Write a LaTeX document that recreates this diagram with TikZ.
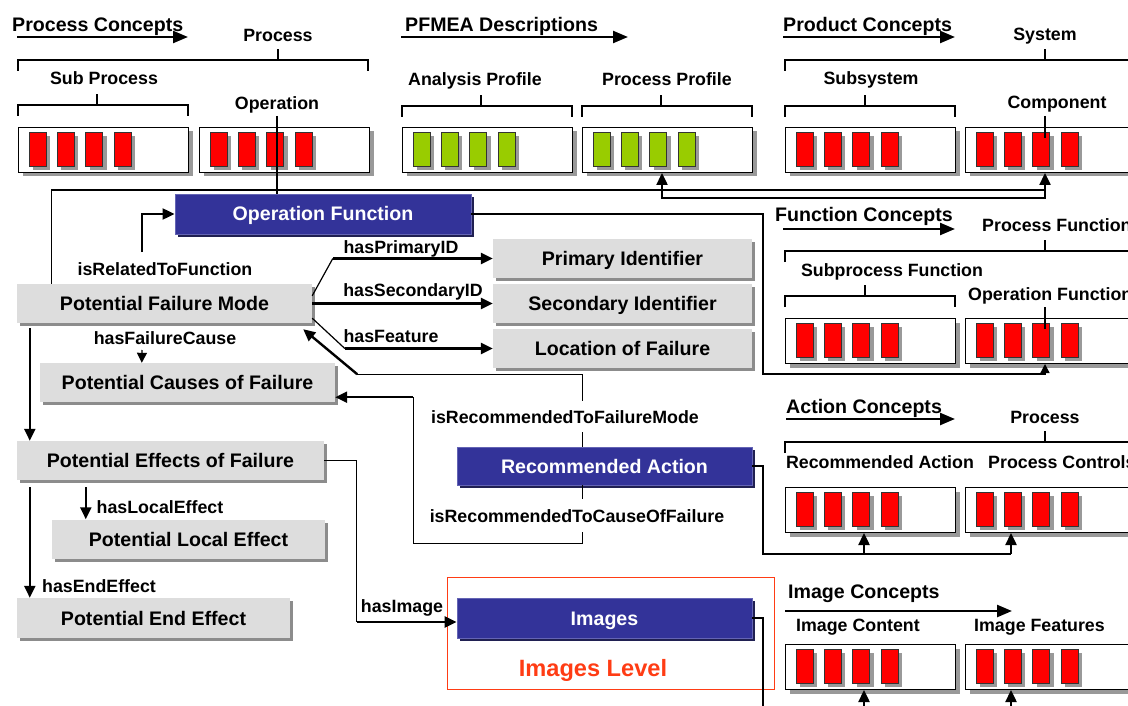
\documentclass[tikz,border=0pt]{standalone}
\usepackage{fontspec}
\setmainfont{Liberation Sans}
\usetikzlibrary{arrows.meta,calc,shadows,positioning}
\definecolor{boxgray}{RGB}{221,221,221}
\definecolor{navy}{RGB}{51,51,153}
\definecolor{navyedge}{RGB}{100,100,180}
\definecolor{navyshade}{RGB}{32,32,82}
\definecolor{cellgreen}{RGB}{153,204,0}
\definecolor{levelred}{RGB}{255,60,20}
\tikzset{
  head/.style={font=\fontsize{19.6}{22}\selectfont\bfseries, inner sep=0pt, anchor=base west},
  lbl/.style={font=\fontsize{17.8}{20}\selectfont\bfseries, inner sep=0pt, anchor=base},
  graybox/.style={fill=boxgray, minimum height=39pt, text height=14pt, text depth=0pt, inner sep=0pt,
    font=\fontsize{19.6}{22}\selectfont\bfseries,
    drop shadow={shadow xshift=3pt, shadow yshift=-3pt, fill=black!45, opacity=1}},
  bluebox/.style={fill=navy, draw=navyedge, line width=0.8pt, text=white, minimum height=39pt,
    text height=14pt, text depth=0pt, inner sep=0pt, font=\fontsize{19.6}{22}\selectfont\bfseries,
    drop shadow={shadow xshift=3pt, shadow yshift=-3pt, fill=navyshade, opacity=1}},
  cbox/.style={draw=black, line width=1pt, fill=white, minimum width=170pt, minimum height=45pt,
    anchor=north west, inner sep=0pt,
    drop shadow={shadow xshift=4pt, shadow yshift=-4pt, fill=black!40, opacity=1}},
  cell/.style={draw=black!80, line width=0.8pt},
  cellshade/.style={fill=black!40},
  conn/.style={line width=1.2pt},
  thk/.style={line width=2.4pt},
  hdarr/.style={line width=2.4pt, -{Triangle[length=15pt,width=12pt]}},
  levelframe/.style={draw=levelred, line width=1pt}
}
% white box holding four cells
\newcommand\conceptbox[4]{%
  \node[cbox] (#1) at (#2,#3) {};
  \foreach \k in {0,...,3}{
    \fill[cellshade] ({#2+15+28.3*\k},{#3+9}) rectangle ++(17,34);
    \draw[cell, fill=#4] ({#2+11+28.3*\k},{#3+5}) rectangle ++(17,34);
  }
}
% bracket with a tick in the middle
\newcommand\bracketline[4]{%
  \draw[conn] (#1,#3+11) -- (#1,#3) -- (#2,#3) -- (#2,#3+11) (#4,#3) -- (#4,#3-11);
}

\begin{document}
\begin{tikzpicture}[x=1pt,y=-1pt,>={Triangle[length=12pt,width=11pt]}]
\useasboundingbox (0,0) rectangle (1128,706);
\clip (0,0) rectangle (1128,706);

% process concepts
\node[head] (prochead) at (12,32) {Process Concepts};
\draw[hdarr] ($(prochead.base west)+(5,5)$) -- ++(171,0);
\node[lbl] (proclbl) at (278,42) {Process};
\bracketline{18}{368}{60}{278}
\node[lbl] (subproclbl) at (104,85) {Sub Process};
\bracketline{18}{188}{105}{97}
\node[lbl] (operlbl) at (277,110) {Operation};
\conceptbox{subproc}{18}{127}{red}
\conceptbox{oper}{199}{127}{red}

% pfmea descriptions
\node[head] (pfmeahead) at (405,32) {PFMEA Descriptions};
\draw[hdarr] ($(pfmeahead.base west)+(-4,5)$) -- ++(227,0);
\node[lbl] (analbl) at (475,86) {Analysis Profile};
\bracketline{402}{572}{106}{481}
\node[lbl] (pproflbl) at (667,86) {Process Profile};
\bracketline{582}{752}{106}{661}
\conceptbox{analysis}{402}{127}{cellgreen}
\conceptbox{procprof}{582}{127}{cellgreen}

% product concepts
\node[head] (prodhead) at (783,32) {Product Concepts};
\draw[hdarr] ($(prodhead.base west)+(0,5)$) -- ++(172,0);
\node[lbl] (syslbl) at (1045,41) {System};
\bracketline{785}{1140}{60}{1045}
\node[lbl] (subsyslbl) at (871,85) {Subsystem};
\bracketline{785}{955}{106}{865}
\node[lbl] (complbl) at (1057,109) {Component};
\conceptbox{subsys}{785}{127}{red}
\conceptbox{comp}{965}{127}{red}
\draw[conn] ($(comp.north west)+(80,-11)$) -- ++(0,22);

% function concepts
\node[head] (funchead) at (775,222) {Function Concepts};
\draw[hdarr] ($(funchead.base west)+(8,7)$) -- ++(172,0);
\node[lbl, anchor=base west] (pfunclbl) at (982,232) {Process Function};
\bracketline{785}{1140}{251}{1045}
\node[lbl] (subfunclbl) at (892,276) {Subprocess Function};
\bracketline{785}{955}{296}{865}
\node[lbl, anchor=base west] (ofunclbl) at (968,300) {Operation Function};
\conceptbox{subfunc}{785}{318}{red}
\conceptbox{opfunc}{965}{318}{red}
\draw[conn] ($(opfunc.north west)+(80,-11)$) -- ++(0,22);

% action concepts
\node[head] (acthead) at (786,413) {Action Concepts};
\draw[hdarr] ($(acthead.base west)+(0,6)$) -- ++(169,0);
\node[lbl] (aproclbl) at (1045,423) {Process};
\bracketline{785}{1140}{442}{1045}
\node[lbl] (ractlbl) at (880,468) {Recommended Action};
\node[lbl, anchor=base west] (pctrllbl) at (988,468) {Process Controls};
\conceptbox{recact}{785}{487}{red}
\conceptbox{procctrl}{965}{487}{red}

% image concepts
\node[head] (imghead) at (788,598) {Image Concepts};
\draw[hdarr] ($(imghead.base west)+(-3,13)$) -- ++(227,0);
\node[lbl] (imgcontlbl) at (858,631) {Image Content};
\node[lbl, anchor=base west] (imgfeatlbl) at (974,631) {Image Features};
\conceptbox{imgcont}{785}{644}{red}
\conceptbox{imgfeat}{965}{644}{red}

% failure mode part
\node[graybox, minimum width=295pt] (pfm) at (164.5,303.5) {Potential Failure Mode};
\node[graybox, minimum width=295pt] (pcf) at (187.5,382.5) {Potential Causes of Failure};
\node[graybox, minimum width=307pt] (pef) at (170.5,460.5) {Potential Effects of Failure};
\node[graybox, minimum width=273pt] (ple) at (188.5,539) {Potential Local Effect};
\node[graybox, minimum width=273pt, minimum height=40pt] (pee) at (153.5,618) {Potential End Effect};
\node[graybox, minimum width=259pt] (pid) at (622.5,258.5) {Primary Identifier};
\node[graybox, minimum width=259pt] (sid) at (622.5,303.5) {Secondary Identifier};
\node[graybox, minimum width=259pt] (lof) at (622.5,348.5) {Location of Failure};
\node[bluebox, minimum width=296pt, minimum height=40pt] (opf) at (323,214) {Operation Function};
\node[bluebox, minimum width=295pt, minimum height=38pt] (ra) at (604.5,466) {Recommended Action};
\node[bluebox, minimum width=295pt, minimum height=40pt] (img) at (604.5,618) {Images};
\draw[levelframe] (447,577) rectangle (774,689);
\node[font=\fontsize{23.6}{26}\selectfont\bfseries, text=levelred, inner sep=0pt, anchor=base] (imglvl) at (593,676) {Images Level};

% connectors to the concept boxes
\draw[conn] ($(pfm.north west)+(35,0)$) |- ($(comp.south west)+(80,17)$);
\draw[thk,<->] ($(procprof.south west)+(80,0)$) -- ++(0,25) -| ($(comp.south west)+(80,0)$);
\draw[conn] ($(operlbl.base)+(0,6)$) -- (operlbl.base |- opf.north);
\draw[conn,-{Triangle[length=9pt,width=9pt]}] (opf.east) -| ($(opfunc.south west)+(-202,10)$) -| ($(opfunc.south west)+(80,0)$);

% relations of the failure mode
\node[lbl] (relfunc) at (165,275) {isRelatedToFunction};
\draw[line width=2pt,->] ($(relfunc.base)+(-23,-23)$) |- (opf.west);
\draw[conn] ($(pfm.north east)+(0,12)$) -- ($(pid.west)+(-160,0)$);
\draw[thk,->] ($(pid.west)+(-160,0)$) -- (pid.west);
\draw[thk,->] (pfm.east) -- (sid.west);
\draw[conn] ($(pfm.south east)+(0,-5)$) -- ($(lof.west)+(-148,0)$);
\draw[thk,->] ($(lof.west)+(-148,0)$) -- (lof.west);
\node[lbl] (hasprim) at (401,254) {hasPrimaryID};
\node[lbl] (hassec) at (413,296) {hasSecondaryID};
\node[lbl] (hasfeat) at (391,342) {hasFeature};
\node[lbl] (hascause) at (165,344) {hasFailureCause};
\draw[conn,-{Triangle[length=10pt,width=10pt]}] ($(hascause.base)+(-23,6)$) -- ($(pcf.north west)+(102,0)$);

% effects
\draw[thk,->] ($(pfm.south west)+(13,5)$) -- ($(pef.north west)+(13,0)$);
\draw[thk,->] ($(pef.south west)+(13,7)$) -- ($(pee.north west)+(13,0)$);
\draw[thk,->] ($(pef.south west)+(69,7)$) -- ($(ple.north west)+(34,0)$);
\node[lbl] (hasloc) at (160,513) {hasLocalEffect};
\node[lbl] (hasend) at (99,592) {hasEndEffect};

% images
\draw[conn] (pef.east) -| ($(img.west)+(-100,4)$);
\draw[thk,->] ($(img.west)+(-100,4)$) -- ($(img.west)+(0,4)$);
\node[lbl] (hasimg) at (402,612) {hasImage};
\draw[conn] (img.east) -| ($(imgcont.south west)+(-22,30)$) -- ($(imgfeat.south west)+(46,30)$);
\draw[thk,->] ($(imgcont.south west)+(79,30)$) -- ($(imgcont.south west)+(79,0)$);
\draw[thk,->] ($(imgfeat.south west)+(46,30)$) -- ($(imgfeat.south west)+(46,0)$);

% recommended action
\draw[conn] ($(ra.north west)+(126,0)$) |- ($(pfm.south east)+(45,51)$);
\draw[thk,->] ($(pfm.south east)+(45,51)$) -- ($(pfm.south east)+(-9,6)$);
\draw[conn] ($(ra.south west)+(126,0)$) |- ($(pcf.south east)+(78,141)$) -- ($(pcf.south east)+(78,-5)$);
\draw[thk,->] ($(pcf.south east)+(78,-5)$) -- ($(pcf.south east)+(0,-5)$);
\node[lbl, fill=white, inner xsep=2pt, inner ysep=9pt] (recfm) at (565,423) {isRecommendedToFailureMode};
\node[lbl, fill=white, inner xsep=2pt, inner ysep=10pt] (reccf) at (577,522) {isRecommendedToCauseOfFailure};
\draw[conn] (ra.east) -| ($(recact.south west)+(-22,21)$) -- ($(procctrl.south west)+(46,21)$);
\draw[thk,->] ($(recact.south west)+(79,21)$) -- ($(recact.south west)+(79,0)$);
\draw[thk,->] ($(procctrl.south west)+(46,21)$) -- ($(procctrl.south west)+(46,0)$);
\end{tikzpicture}
\end{document}
